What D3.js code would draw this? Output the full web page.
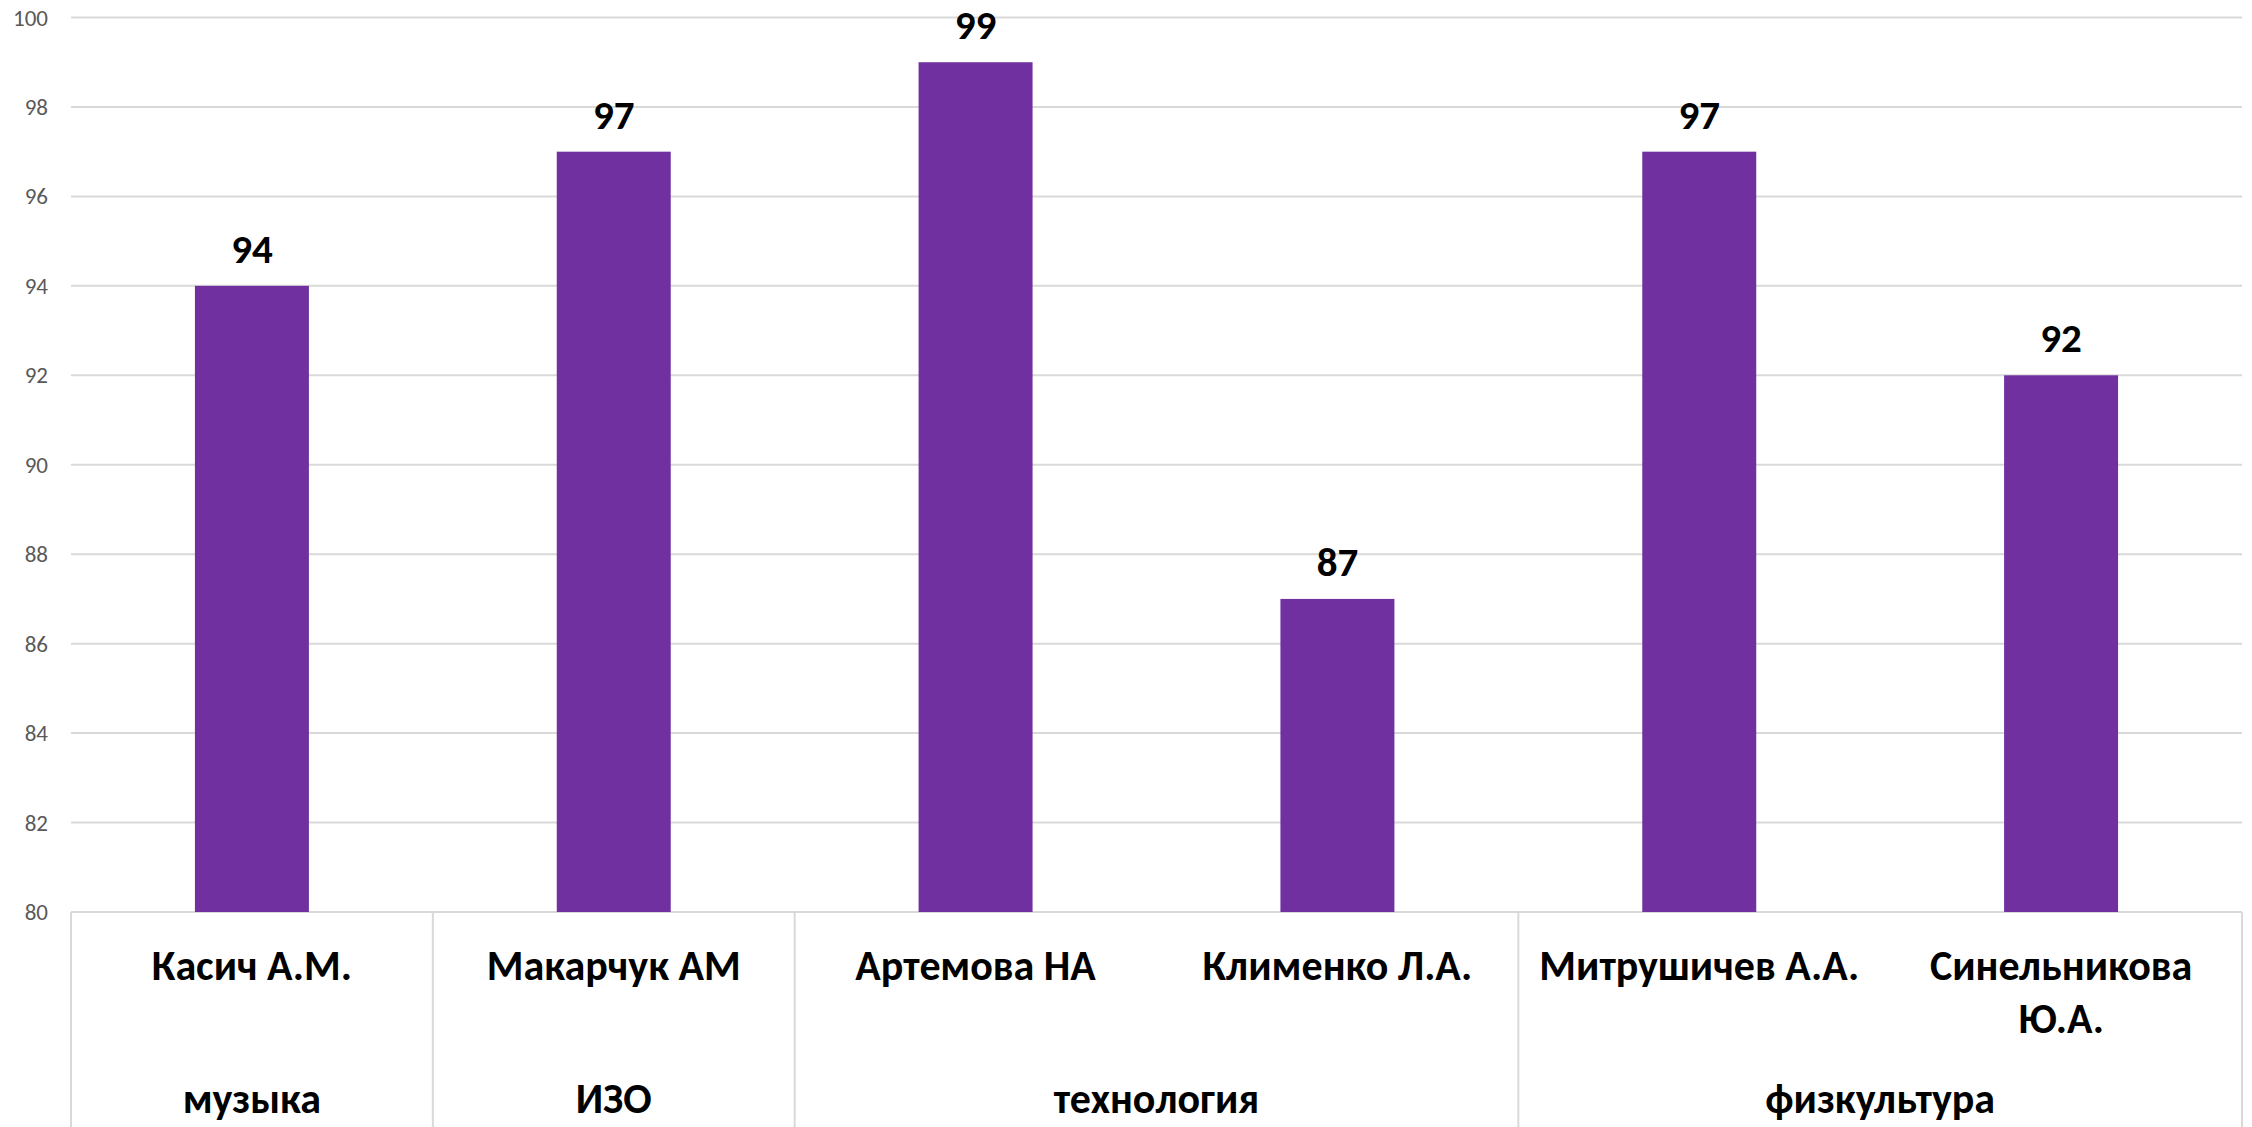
<!DOCTYPE html>
<html>
<head>
<meta charset="utf-8">
<script src="https://cdn.jsdelivr.net/npm/d3@7"></script>
<style>
html,body{margin:0;padding:0;background:#fff;}
svg{display:block;}
</style>
</head>
<body>
<svg id="chart" width="2252" height="1127"></svg>
<script>
const teachers = ["Касич А.М.", "Макарчук АМ", "Артемова НА", "Клименко Л.А.", "Митрушичев А.А.", "Синельникова Ю.А."];
const subjects = ["музыка", "ИЗО", "технология", "технология", "физкультура", "физкультура"];
const scores = [94, 97, 99, 87, 97, 92];
const yTicks = [80, 82, 84, 86, 88, 90, 92, 94, 96, 98, 100];

(function () {
const W = 2252, H = 1127;
const plotLeft = 71, plotRight = 2242, plotTop = 17.5, axisY = 912;
const FONT = "Calibri, Carlito, 'Open Sans', 'Noto Sans', sans-serif";

const svg = d3.select("#chart");

const x = d3.scaleBand().domain(d3.range(teachers.length)).range([plotLeft, plotRight])
  .paddingInner(0.685).paddingOuter(0.3425);
const y = d3.scaleLinear().domain([80, 100]).range([axisY, plotTop]);
const step = x.step();

// gridlines
svg.append("g").selectAll("line").data(yTicks).join("line")
  .attr("x1", plotLeft).attr("x2", plotRight)
  .attr("y1", d => y(d)).attr("y2", d => y(d))
  .attr("stroke", "#d9d9d9").attr("stroke-width", 2);

// y axis labels
const yAxis = d3.axisLeft(y).tickValues(yTicks).tickSize(0).tickPadding(0);
const ya = svg.append("g").attr("transform", "translate(48,0)").call(yAxis);
ya.select(".domain").remove();
ya.selectAll("text").attr("font-family", FONT).attr("font-size", 23)
  .attr("fill", "#595959").attr("dy", "0.33em");

// bars
svg.append("g").selectAll("rect").data(scores).join("rect")
  .attr("x", (d, i) => x(i)).attr("width", x.bandwidth())
  .attr("y", d => y(d)).attr("height", d => axisY - y(d))
  .attr("fill", "#7030A0");

// value labels
svg.append("g").selectAll("text").data(scores).join("text")
  .attr("x", (d, i) => x(i) + x.bandwidth() / 2)
  .attr("y", d => y(d) - 23)
  .attr("text-anchor", "middle")
  .attr("font-family", FONT).attr("font-weight", 700).attr("font-size", 41)
  .attr("fill", "#000").text(d => d);

// group boundaries
const bounds = [0];
for (let i = 1; i < subjects.length; i++) if (subjects[i] !== subjects[i - 1]) bounds.push(i);
bounds.push(subjects.length);
const bx = i => plotLeft + i * step;

svg.append("g").selectAll("line").data(bounds).join("line")
  .attr("x1", d => bx(d)).attr("x2", d => bx(d))
  .attr("y1", axisY).attr("y2", H)
  .attr("stroke", "#d9d9d9").attr("stroke-width", 2);

// teacher labels with wrapping
const maxW = step - 20;
const tg = svg.append("g");
teachers.forEach((name, i) => {
  const cx = x(i) + x.bandwidth() / 2;
  const t = tg.append("text").attr("text-anchor", "middle")
    .attr("font-family", FONT).attr("font-weight", 700).attr("font-size", 42)
    .attr("fill", "#000");
  const words = name.split(" ");
  let lines = [], cur = [];
  words.forEach(w => {
    const test = cur.concat(w).join(" ");
    t.text(test);
    if (t.node().getComputedTextLength() > maxW && cur.length) {
      lines.push(cur.join(" "));
      cur = [w];
    } else cur.push(w);
  });
  lines.push(cur.join(" "));
  t.text(null);
  lines.forEach((ln, k) => {
    t.append("tspan").attr("x", cx).attr("y", 980 + k * 53).text(ln);
  });
});

// group labels
const groups = [];
for (let b = 0; b < bounds.length - 1; b++) groups.push({ name: subjects[bounds[b]], a: bounds[b], z: bounds[b + 1] });
svg.append("g").selectAll("text").data(groups).join("text")
  .attr("x", d => (bx(d.a) + bx(d.z)) / 2).attr("y", 1113)
  .attr("text-anchor", "middle")
  .attr("font-family", FONT).attr("font-weight", 700).attr("font-size", 42)
  .attr("fill", "#000").text(d => d.name);
})();
</script>
</body>
</html>
